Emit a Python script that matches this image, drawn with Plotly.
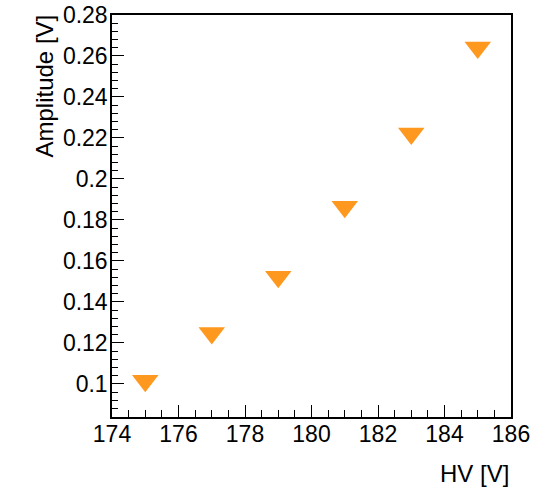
import plotly.graph_objects as go

hv = [175, 177, 179, 181, 183, 185]
amplitude = [0.1015, 0.1248, 0.1522, 0.1864, 0.2222, 0.2641]

x_title = "HV [V]"
y_title = "Amplitude [V]"

W, H = 536, 489
L, R, T, B = 112, 25, 15, 72
pw = W - L - R
ph = H - T - B

fig = go.Figure()
fig.add_trace(go.Scatter(
    x=hv, y=amplitude, mode="markers",
    marker=dict(symbol="triangle-down", size=23, color="rgb(255,152,30)", line=dict(width=0)),
    showlegend=False, cliponaxis=False,
))

font = dict(family="Liberation Sans, Arial, sans-serif", size=23, color="black")
tfont = dict(family="Liberation Sans, Arial, sans-serif", size=24, color="black")

fig.update_layout(
    width=W, height=H,
    margin=dict(l=L, r=R, t=T, b=B, pad=0, autoexpand=False),
    paper_bgcolor="white", plot_bgcolor="white",
    font=font,
    xaxis=dict(
        range=[174, 186], dtick=2, tick0=174, automargin=False,
        ticks="inside", ticklen=12, tickwidth=1, tickcolor="black",
        minor=dict(dtick=0.5, ticks="inside", ticklen=7, tickwidth=1, tickcolor="black", showgrid=False),
        showline=True, linecolor="black", linewidth=1.5, mirror=True,
        showgrid=False, zeroline=False, tickfont=font, ticklabelstandoff=-4,
    ),
    yaxis=dict(
        range=[0.0838, 0.28], dtick=0.02, tick0=0.1, automargin=False,
        ticks="inside", ticklen=12, tickwidth=1, tickcolor="black",
        minor=dict(dtick=0.004, ticks="inside", ticklen=6, tickwidth=1, tickcolor="black", showgrid=False),
        showline=True, linecolor="black", linewidth=1.5, mirror=True,
        showgrid=False, zeroline=False, tickfont=font, ticklabelstandoff=-2,
    ),
    annotations=[
        dict(text=x_title, xref="paper", yref="paper",
             x=(511 - L) / pw, y=(T + ph - 473) / ph,
             xanchor="right", yanchor="middle", showarrow=False, font=tfont),
        dict(text=y_title, xref="paper", yref="paper",
             x=(44 - L) / pw, y=(T + ph - 13) / ph,
             xanchor="center", yanchor="top", textangle=-90, showarrow=False, font=tfont),
    ],
)

fig.write_html(
    "out.html",
    config={"displayModeBar": False},
    post_script="document.body.style.margin='0px';document.body.style.overflow='hidden';",
)
